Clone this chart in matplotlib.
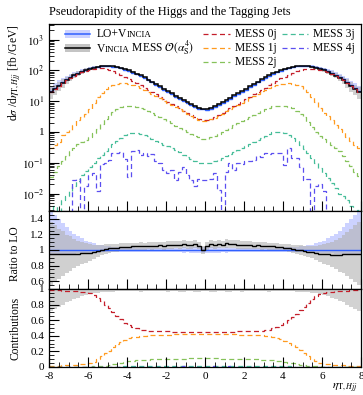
import numpy as np
import matplotlib
matplotlib.use('Agg')
import matplotlib.pyplot as plt
from matplotlib.ticker import FixedLocator, MultipleLocator, FuncFormatter, LogLocator, NullFormatter
from matplotlib.patches import Rectangle
from matplotlib.offsetbox import TextArea, HPacker, AnnotationBbox

plt.rcParams['font.family'] = ['Liberation Serif', 'DejaVu Serif']
plt.rcParams['mathtext.fontset'] = 'stix'
plt.rcParams['axes.unicode_minus'] = False

# ---------------- data ----------------
eta_edges = np.linspace(-8, 8, 81)

total_mess = [20, 25, 32, 39, 48, 58, 69, 79, 91, 102, 112, 123, 132, 138, 141, 141, 135, 129, 120, 110,
              100, 89, 79, 69, 59, 50, 43, 36, 30, 25, 21, 17.8, 15.1, 12.9, 11.0, 9.3, 7.9, 6.9, 6.0, 5.4,
              5.5, 6.1, 6.9, 8.0, 9.4, 11.1, 13.0, 15.3, 18.0, 21, 25, 30, 36, 43, 51, 59, 69, 80, 90, 101,
              111, 121, 130, 136, 141, 142, 138, 132, 123, 113, 102, 91, 79, 68, 58, 48, 39, 31, 25, 20]

ratio_to_lo = [0.955, 0.955, 0.95, 0.955, 0.95, 0.955, 0.955, 0.955, 0.96, 0.96,
               0.965, 0.975, 0.99, 1.0, 1.01, 1.02, 1.025, 1.03, 1.035, 1.04,
               1.04, 1.045, 1.045, 1.05, 1.045, 1.055, 1.05, 1.055, 1.06, 1.055,
               1.065, 1.06, 1.07, 1.065, 1.075, 1.065, 1.06, 1.075, 1.055, 1.0,
               1.045, 1.075, 1.065, 1.08, 1.07, 1.085, 1.075, 1.08, 1.07, 1.065,
               1.06, 1.065, 1.055, 1.06, 1.05, 1.055, 1.045, 1.045, 1.04, 1.035,
               1.03, 1.025, 1.015, 1.005, 1.0, 0.99, 0.98, 0.97, 0.96, 0.955,
               0.95, 0.945, 0.94, 0.94, 0.94, 0.945, 0.945, 0.95, 0.955, 0.955]

lo_err_up = [0.5, 0.45, 0.4, 0.34, 0.29, 0.25, 0.21, 0.18, 0.15, 0.12,
             0.1, 0.085, 0.07, 0.06, 0.05, 0.045, 0.04, 0.04, 0.035, 0.035,
             0.035, 0.035, 0.03, 0.03, 0.03, 0.03, 0.03, 0.03, 0.03, 0.03,
             0.03, 0.03, 0.03, 0.03, 0.035, 0.03, 0.035, 0.04, 0.035, 0.04,
             0.04, 0.035, 0.04, 0.035, 0.03, 0.035, 0.03, 0.03, 0.03, 0.03,
             0.03, 0.03, 0.03, 0.03, 0.03, 0.03, 0.03, 0.03, 0.035, 0.035,
             0.035, 0.035, 0.04, 0.04, 0.045, 0.05, 0.06, 0.07, 0.085, 0.1,
             0.12, 0.15, 0.18, 0.21, 0.25, 0.29, 0.34, 0.4, 0.45, 0.5]

lo_err_dn = [0.06, 0.06, 0.055, 0.05, 0.05, 0.045, 0.045, 0.04, 0.04, 0.04,
             0.035, 0.035, 0.035, 0.03, 0.03, 0.03, 0.03, 0.03, 0.03, 0.03,
             0.03, 0.03, 0.03, 0.03, 0.03, 0.03, 0.03, 0.03, 0.03, 0.03,
             0.03, 0.03, 0.03, 0.03, 0.035, 0.03, 0.035, 0.04, 0.035, 0.04,
             0.04, 0.035, 0.04, 0.035, 0.03, 0.035, 0.03, 0.03, 0.03, 0.03,
             0.03, 0.03, 0.03, 0.03, 0.03, 0.03, 0.03, 0.03, 0.03, 0.03,
             0.03, 0.03, 0.03, 0.03, 0.03, 0.03, 0.03, 0.035, 0.035, 0.035,
             0.04, 0.04, 0.04, 0.045, 0.045, 0.05, 0.05, 0.055, 0.06, 0.06]

mess_err = [0.42, 0.38, 0.34, 0.3, 0.26, 0.23, 0.2, 0.17, 0.15, 0.13,
            0.11, 0.095, 0.08, 0.07, 0.065, 0.06, 0.055, 0.05, 0.05, 0.045,
            0.045, 0.045, 0.045, 0.045, 0.045, 0.045, 0.045, 0.045, 0.045, 0.05,
            0.045, 0.05, 0.045, 0.05, 0.05, 0.045, 0.05, 0.05, 0.045, 0.05,
            0.05, 0.045, 0.05, 0.05, 0.045, 0.05, 0.05, 0.045, 0.05, 0.045,
            0.05, 0.045, 0.045, 0.045, 0.045, 0.045, 0.045, 0.045, 0.045, 0.045,
            0.045, 0.05, 0.05, 0.055, 0.06, 0.065, 0.07, 0.08, 0.095, 0.11,
            0.13, 0.15, 0.17, 0.2, 0.23, 0.26, 0.3, 0.34, 0.38, 0.42]

contrib_unc = [0.28, 0.26, 0.23, 0.2, 0.17, 0.15, 0.13, 0.11, 0.09, 0.075,
               0.065, 0.055, 0.05, 0.045, 0.04, 0.035, 0.035, 0.03, 0.03, 0.03,
               0.03, 0.03, 0.03, 0.035, 0.03, 0.03, 0.03, 0.025, 0.03, 0.03,
               0.035, 0.03, 0.03, 0.04, 0.035, 0.03, 0.03, 0.035, 0.04, 0.03,
               0.03, 0.04, 0.035, 0.03, 0.03, 0.035, 0.04, 0.03, 0.03, 0.035,
               0.03, 0.03, 0.025, 0.03, 0.03, 0.03, 0.035, 0.03, 0.03, 0.03,
               0.03, 0.03, 0.03, 0.035, 0.035, 0.04, 0.045, 0.05, 0.055, 0.065,
               0.075, 0.09, 0.11, 0.13, 0.15, 0.17, 0.2, 0.23, 0.26, 0.28]

frac_0j = [0.985, 0.985, 0.985, 0.98, 0.98, 0.98, 0.975, 0.97, 0.965, 0.96,
           0.945, 0.92, 0.885, 0.845, 0.80, 0.755, 0.70, 0.655, 0.61, 0.57,
           0.54, 0.515, 0.495, 0.48, 0.47, 0.465, 0.46, 0.46, 0.455, 0.455,
           0.455, 0.45, 0.45, 0.45, 0.45, 0.45, 0.445, 0.445, 0.445, 0.445,
           0.445, 0.445, 0.445, 0.45, 0.45, 0.45, 0.45, 0.45, 0.455, 0.455,
           0.455, 0.46, 0.46, 0.46, 0.465, 0.47, 0.48, 0.495, 0.515, 0.54,
           0.565, 0.6, 0.64, 0.685, 0.73, 0.775, 0.825, 0.87, 0.905, 0.93,
           0.945, 0.955, 0.965, 0.97, 0.975, 0.98, 0.98, 0.985, 0.985, 0.985]

frac_1j = [0.015, 0.015, 0.015, 0.02, 0.02, 0.02, 0.025, 0.03, 0.033, 0.037,
           0.05, 0.07, 0.10, 0.135, 0.175, 0.21, 0.255, 0.29, 0.32, 0.35,
           0.37, 0.38, 0.39, 0.395, 0.40, 0.405, 0.41, 0.41, 0.41, 0.415,
           0.415, 0.415, 0.42, 0.42, 0.42, 0.42, 0.42, 0.42, 0.42, 0.42,
           0.42, 0.42, 0.42, 0.42, 0.42, 0.42, 0.42, 0.42, 0.415, 0.415,
           0.415, 0.41, 0.41, 0.41, 0.405, 0.40, 0.395, 0.385, 0.37, 0.355,
           0.335, 0.31, 0.28, 0.25, 0.215, 0.18, 0.14, 0.105, 0.075, 0.055,
           0.04, 0.035, 0.03, 0.025, 0.022, 0.02, 0.018, 0.016, 0.015, 0.015]

frac_2j = [0.0017, 0.002, 0.0025, 0.003, 0.0035, 0.004, 0.0045, 0.005, 0.005, 0.0055,
           0.006, 0.0075, 0.0095, 0.013, 0.019, 0.026, 0.034, 0.043, 0.052, 0.062,
           0.071, 0.078, 0.084, 0.089, 0.093, 0.096, 0.099, 0.101, 0.103, 0.104,
           0.105, 0.106, 0.107, 0.107, 0.108, 0.108, 0.109, 0.109, 0.11, 0.11,
           0.11, 0.11, 0.109, 0.109, 0.108, 0.108, 0.107, 0.107, 0.106, 0.105,
           0.104, 0.103, 0.101, 0.099, 0.096, 0.093, 0.089, 0.084, 0.078, 0.071,
           0.063, 0.054, 0.045, 0.036, 0.028, 0.021, 0.015, 0.011, 0.008, 0.0065,
           0.0058, 0.0052, 0.0048, 0.0045, 0.004, 0.0035, 0.003, 0.0025, 0.002, 0.0018]

mess_3j = [0.0012, 0.004, 0.0025, 0.006, 0.008, 0.012, 0.018, 0.025, 0.04, 0.055,
           0.075, 0.1, 0.14, 0.18, 0.24, 0.32, 0.4, 0.5, 0.62, 0.8,
           0.92, 0.95, 0.93, 0.88, 0.8, 0.72, 0.6, 0.5, 0.44, 0.38,
           0.34, 0.3, 0.26, 0.22, 0.18, 0.15, 0.13, 0.11, 0.1, 0.1,
           0.1, 0.1, 0.11, 0.12, 0.14, 0.16, 0.19, 0.22, 0.26, 0.31,
           0.36, 0.42, 0.48, 0.55, 0.64, 0.74, 0.85, 0.98, 1.02, 1.0,
           0.92, 0.8, 0.65, 0.5, 0.38, 0.28, 0.2, 0.14, 0.1, 0.065,
           0.045, 0.032, 0.022, 0.015, 0.01, 0.008, 0.006, 0.004, 0.0022, 0.003]

mess_4j = [0, 0, 0, 0, 0, 0, 0.028, 0.03, 0.0025, 0.018,
           0.04, 0.045, 0.012, 0.09, 0.1, 0.12, 0.2, 0.21, 0.23, 0.13,
           0.035, 0.24, 0.26, 0.18, 0.2, 0.16, 0.19, 0.11, 0.1, 0.06,
           0.045, 0.06, 0.028, 0.05, 0.075, 0.04, 0.028, 0.017, 0.03, 0.028,
           0.028, 0.03, 0.045, 0.013, 0, 0.05, 0.1, 0.06, 0.1, 0.09,
           0.11, 0.11, 0.12, 0.17, 0.15, 0.2, 0.19, 0.2, 0.21, 0.2,
           0.085, 0.3, 0.14, 0.14, 0.07, 0.028, 0.03, 0, 0.017, 0.02,
           0.012, 0, 0, 0, 0, 0, 0, 0, 0, 0]

y_ticks_main = [1e-2, 1e-1, 1, 1e1, 1e2, 1e3]
y_ticklabels_main = ['$10^{-2}$', '$10^{-1}$', '1', '$10^{1}$', '$10^{2}$', '$10^{3}$']
x_ticks = [-8, -6, -4, -2, 0, 2, 4, 6, 8]

# ---------------- derived ----------------
total = np.array(total_mess)
ratio = np.array(ratio_to_lo)
lo = total / ratio
lo_up = np.array(lo_err_up)
lo_dn = np.array(lo_err_dn)
merr = np.array(mess_err)
f0 = np.array(frac_0j)
f1 = np.array(frac_1j)
f2 = np.array(frac_2j)
m3 = np.array(mess_3j)
m4 = np.array(mess_4j)
m0 = f0 * total
m1 = f1 * total
m2 = f2 * total

c_red = '#c41e2a'
c_orange = '#ff9a1f'
c_green = '#86c25a'
c_teal = '#45bd98'
c_purple = '#5b4ff0'
c_blue = '#3060ff'
c_bandblue = '#ccd2ff'
c_gray = '#b2b2b2'
dash = (0, (4, 2.6))

fig = plt.figure(figsize=(3.63, 3.95), dpi=100)
L, W = 0.135, 0.8595
ax1 = fig.add_axes([L, 0.4658, W, 0.4734])
ax2 = fig.add_axes([L, 0.2684, W, 0.1974])
ax3 = fig.add_axes([L, 0.0709, W, 0.1975])

def pos(v):
    return np.where(v > 0, v, 1e-7)

# main panel
ax1.set_yscale('log')
ax1.stairs(lo * (1 + lo_up), eta_edges, baseline=lo * (1 - lo_dn), fill=True, color=c_bandblue, lw=0)
ax1.stairs(total * (1 + merr), eta_edges, baseline=total * (1 - merr), fill=True, color=c_gray, alpha=0.6, lw=0)
ax1.stairs(lo, eta_edges, baseline=None, color=c_blue, lw=1.0)
ax1.stairs(total, eta_edges, baseline=None, color='black', lw=1.1)
for vals, c in [(m0, c_red), (m1, c_orange), (m2, c_green), (m3, c_teal), (m4, c_purple)]:
    ax1.stairs(pos(vals), eta_edges, baseline=None, color=c, lw=0.9, ls=dash)
ax1.set_ylim(2.7e-3, 3.2e3)

# ratio panel
ax2.stairs(1 + lo_up, eta_edges, baseline=1 - lo_dn, fill=True, color=c_bandblue, lw=0)
ax2.stairs(ratio * (1 + merr), eta_edges, baseline=ratio * (1 - merr), fill=True, color=c_gray, alpha=0.6, lw=0)
ax2.stairs(lo / lo, eta_edges, baseline=None, color=c_blue, lw=1.0)
ax2.stairs(ratio, eta_edges, baseline=None, color='black', lw=1.0)
ax2.set_ylim(0.5, 1.5)

# contributions panel
cu = np.array(contrib_unc)
ax3.stairs(1 + cu, eta_edges, baseline=1 - cu, fill=True, color='#d2d2d2', lw=0)
for vals, c in [(f0, c_red), (f1, c_orange), (f2, c_green), (m3 / total, c_teal), (m4 / total, c_purple)]:
    ax3.stairs(vals, eta_edges, baseline=None, color=c, lw=0.9, ls=dash)
ax3.set_ylim(0, 1.0)

for ax in (ax1, ax2, ax3):
    ax.set_xlim(-8, 8)
    ax.xaxis.set_major_locator(FixedLocator(x_ticks))
    ax.xaxis.set_minor_locator(MultipleLocator(0.5))
    ax.tick_params(which='major', direction='in', length=7, width=0.8, top=False, right=False,
                   labelsize=8, pad=3.5)
    ax.tick_params(which='minor', direction='in', length=3.5, width=0.6, top=False, right=False)
    for s in ax.spines.values():
        s.set_linewidth(0.9)

ax1.tick_params(labelbottom=False)
ax2.tick_params(labelbottom=False)
ax3.set_xticklabels([str(v) for v in x_ticks])

ax1.yaxis.set_major_locator(FixedLocator(y_ticks_main))
ax1.yaxis.set_major_formatter(FuncFormatter(lambda v, p: y_ticklabels_main[y_ticks_main.index(v)] if v in y_ticks_main else ''))
ax1.yaxis.set_minor_locator(LogLocator(base=10, subs=np.arange(2, 10)))
ax1.yaxis.set_minor_formatter(NullFormatter())

fmt = FuncFormatter(lambda v, p: f'{v:g}')
ax2.yaxis.set_major_locator(FixedLocator([0.6, 0.8, 1.0, 1.2, 1.4]))
ax2.yaxis.set_minor_locator(MultipleLocator(0.05))
ax2.yaxis.set_major_formatter(fmt)
ax3.yaxis.set_major_locator(FixedLocator([0, 0.2, 0.4, 0.6, 0.8, 1.0]))
ax3.yaxis.set_minor_locator(MultipleLocator(0.05))
ax3.yaxis.set_major_formatter(fmt)

# labels
ax1.set_ylabel(r'd$\sigma$ /d$\eta_{\mathrm{T},Hjj}$ [fb /GeV]', fontsize=8.3, loc='top', va='center')
ax1.yaxis.set_label_coords(-0.108, 1.0)
ax2.set_ylabel('Ratio to LO', fontsize=8.3, va='center')
ax2.yaxis.set_label_coords(-0.108, 0.45)
ax3.set_ylabel('Contributions', fontsize=8.3, va='center')
ax3.yaxis.set_label_coords(-0.108, 0.5)
ax3.set_xlabel(r'$\eta_{\mathrm{T},Hjj}$', fontsize=8.3, loc='right', va='center')
ax3.xaxis.set_label_coords(0.99, -0.28)

fig.text(L, 0.969, 'Pseudorapidity of the Higgs and the Tagging Jets', fontsize=8.8, ha='left', va='center')

# legend (manual)
def add_entry(ax, x0, x1, xt, y, color, ls, band, parts):
    if band is not None:
        ax.add_patch(Rectangle((x0, y - 0.02), x1 - x0, 0.04, transform=ax.transAxes,
                               color=band, lw=0, zorder=5))
    ax.plot([x0, x1], [y, y], transform=ax.transAxes, color=color, ls=ls,
            lw=1.1 if ls == '-' else 0.9, zorder=6)
    boxes = [TextArea(t, textprops=dict(size=s)) for t, s in parts]
    pk = HPacker(children=boxes, align='baseline', pad=0, sep=0)
    ab = AnnotationBbox(pk, (xt, y), xycoords='axes fraction', box_alignment=(0, 0.5),
                        frameon=False, pad=0, zorder=7)
    ax.add_artist(ab)

r1, r2, r3 = 0.947, 0.872, 0.797
add_entry(ax1, 0.051, 0.131, 0.152, r1, c_blue, '-', c_bandblue, [('LO+V', 8.3), ('INCIA', 6.4)])
add_entry(ax1, 0.051, 0.131, 0.152, r2, 'black', '-', '#c4c4c4',
          [('V', 8.3), ('INCIA', 6.4), (r' MESS $\mathcal{O}(\alpha_\mathrm{S}^4)$', 8.3)])
add_entry(ax1, 0.494, 0.580, 0.596, r1, c_red, dash, None, [('MESS 0j', 8.3)])
add_entry(ax1, 0.494, 0.580, 0.596, r2, c_orange, dash, None, [('MESS 1j', 8.3)])
add_entry(ax1, 0.494, 0.580, 0.596, r3, c_green, dash, None, [('MESS 2j', 8.3)])
add_entry(ax1, 0.747, 0.830, 0.846, r1, c_teal, dash, None, [('MESS 3j', 8.3)])
add_entry(ax1, 0.747, 0.830, 0.846, r2, c_purple, dash, None, [('MESS 4j', 8.3)])

fig.savefig('out.png', dpi=100)
